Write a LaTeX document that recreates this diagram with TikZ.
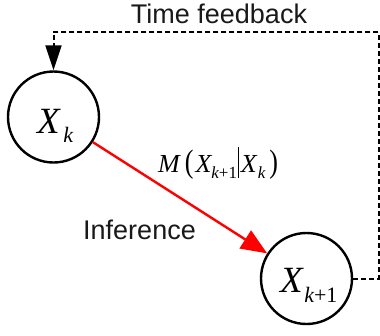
\documentclass[tikz,border=0pt]{standalone}
\usepackage{fontspec}
\usepackage{graphicx}
\setmainfont{Liberation Sans}
\newfontfamily\tnr{Liberation Serif}
\usepackage{tikz}
\usetikzlibrary{positioning}
\usetikzlibrary{arrows.meta}
\usetikzlibrary{calc}

% italic X with a lowered subscript
\newcommand{\varX}[5]{{\tnr\fontsize{#1}{#1}\selectfont\itshape X}\kern#5\raisebox{-#4}{\tnr\fontsize{#2}{#2}\selectfont #3}}
\newcommand{\bigpar}[1]{{\tnr\fontsize{26}{26}\selectfont\scalebox{1}[1.25]{#1}}}

\begin{document}
\begin{tikzpicture}[
  x=1pt, y=-1pt,
  state/.style={
    circle, draw=black, line width=2.4pt,
    minimum size=91pt, inner sep=0pt
  },
  infer/.style={
    draw=red, line width=2.4pt,
    -{Triangle[length=26pt,width=21pt]}
  },
  feedback/.style={
    draw=black, line width=2pt,
    dash pattern=on 5pt off 3pt
  },
  fbtip/.style={
    draw=black, line width=2pt,
    -{Triangle[length=25pt,width=16pt]}
  },
  caption/.style={
    font=\fontsize{27}{30}\selectfont, text=black!90, inner sep=0pt
  },
]
  \useasboundingbox (0,0) rectangle (380,335);

  \node[state] (xk) at (53.5,117) {};
  \node[state] (xk1) at (306.5,278.5) {};
  \node[inner sep=0pt, anchor=base west] (xklab) at (37,133)
    {\varX{37}{22}{\itshape k}{9pt}{3.5pt}};
  \node[inner sep=0pt, anchor=base west] (xk1lab) at (280,292)
    {\varX{37}{22}{\itshape k\upshape+1}{10pt}{1.5pt}};

  % inference step
  \draw[infer] (xk) -- (xk1);
  \node[inner sep=0pt, anchor=base west] (model) at (158,172)
    {{\tnr\fontsize{26}{26}\selectfont\itshape M}\kern5pt\bigpar{(}\kern2pt%
     \varX{26}{17}{\itshape k\upshape+1}{6pt}{0pt}\kern1pt%
     \raisebox{-6pt}{\rule{0.9pt}{31pt}}\kern2pt%
     \varX{26}{17}{\itshape k}{6pt}{1pt}\kern4pt\bigpar{)}};
  \node[caption, anchor=base] (inference) at (139.5,239) {Inference};

  % time feedback loop
  \coordinate (corner) at (378.5,32);
  \coordinate (tipbase) at ($(xk.north)+(0,-26)$);
  \draw[feedback] (xk1.east) -| (corner) -| (tipbase);
  \draw[fbtip] (tipbase) -- (xk.north);
  \node[caption, anchor=base] (timefb) at (219,23) {Time feedback};
\end{tikzpicture}
\end{document}
